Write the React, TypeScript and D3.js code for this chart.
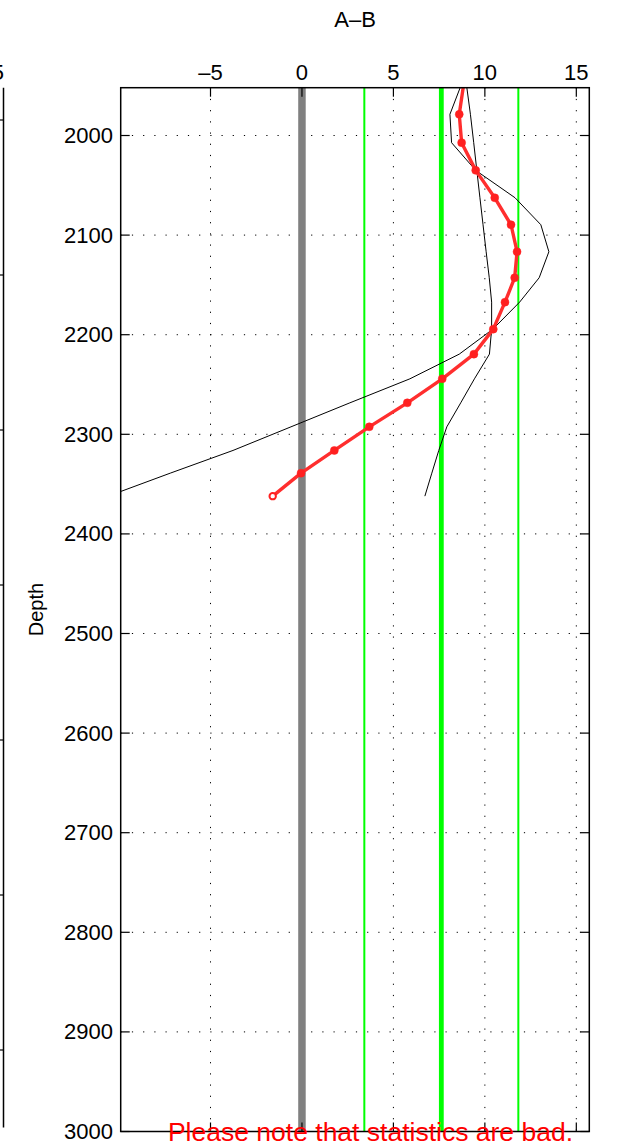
import React from "react";
import * as d3 from "d3";

// ---- data ----
const depths = [1950, 1978.7, 2007.2, 2035, 2062.5, 2089.6, 2116.7, 2142.8, 2167.3, 2194.4, 2219.5, 2244.3, 2268.4, 2292.5, 2316.2, 2339, 2362.1];
const redValues = [8.83, 8.6, 8.73, 9.5, 10.54, 11.43, 11.76, 11.63, 11.1, 10.46, 9.4, 7.67, 5.76, 3.68, 1.77, -0.05, -1.6];
const blackA = [8.69, 8.09, 8.18, 9.5, 11.65, 13.06, 13.5, 12.97, 11.9, 10.44, 8.6, 5.9, 2.62, -0.6, -3.77, -7.2, -10.6];
const blackB = [9.0, 9.21, 9.39, 9.56, 9.73, 9.9, 10.07, 10.24, 10.37, 10.37, 10.25, 9.43, 8.68, 7.92, 7.48, 7.1, 6.72];
const zeroLine = 0;
const greenMean = 7.62;
const greenLow = 3.41;
const greenHigh = 11.83;
const xTicks = [-5, 0, 5, 10, 15];
const yTicks = [2000, 2100, 2200, 2300, 2400, 2500, 2600, 2700, 2800, 2900, 3000];
const xDomain = [-9.91, 15.71];
const yDomain = [1952, 3000];
const leftPanelTicks = [120, 275, 430, 585, 740, 895, 1050];

const W = 624, H = 1147;
const L = 120.7, R = 589.3, T = 87.7, B = 1131.5;
const FONT = "'Liberation Sans', Arial, Helvetica, sans-serif";

export default function App() {
  const x = d3.scaleLinear().domain(xDomain).range([L, R]);
  const y = d3.scaleLinear().domain(yDomain).range([T, B]);
  const line = d3.line<number>().x((v) => x(v)).y((_, i) => y(depths[i]));
  const tick = 9;
  const fmt = (v: number) => (v < 0 ? "\u2013" + Math.abs(v) : String(v));

  return (
    <svg width={W} height={H} style={{ position: "absolute", left: 0, top: 0, background: "#fff" }} fontFamily={FONT}>
      <defs>
        <clipPath id="plot">
          <rect x={L} y={T} width={R - L} height={B - T} />
        </clipPath>
      </defs>
      {/* left partial panel */}
      <line x1={3.5} x2={3.5} y1={T} y2={B - 4} stroke="#000" strokeWidth={1.5} />
      {leftPanelTicks.map((t) => (
        <line key={t} x1={0} x2={3.5} y1={t} y2={t} stroke="#000" strokeWidth={1.2} />
      ))}
      <text x={4} y={80} fontSize={22} textAnchor="end">15</text>

      {/* grid */}
      <g stroke="#000" strokeWidth={1} strokeDasharray="1.2 10">
        {xTicks.map((t) => (
          <line key={"gx" + t} x1={x(t)} x2={x(t)} y1={T} y2={B} />
        ))}
        {yTicks.map((t) => (
          <line key={"gy" + t} x1={L} x2={R} y1={y(t)} y2={y(t)} />
        ))}
      </g>

      <g clipPath="url(#plot)">
        <line x1={x(zeroLine)} x2={x(zeroLine)} y1={T} y2={B} stroke="#808080" strokeWidth={7.5} />
        <line x1={x(greenLow)} x2={x(greenLow)} y1={T} y2={B} stroke="#00ff00" strokeWidth={2} />
        <line x1={x(greenMean)} x2={x(greenMean)} y1={T} y2={B} stroke="#00ff00" strokeWidth={4.8} />
        <line x1={x(greenHigh)} x2={x(greenHigh)} y1={T} y2={B} stroke="#00ff00" strokeWidth={2} />
        <path d={line(blackA) || ""} fill="none" stroke="#000" strokeWidth={1} />
        <path d={line(blackB) || ""} fill="none" stroke="#000" strokeWidth={1} />
        <path d={line(redValues) || ""} fill="none" stroke="#ff2e2e" strokeWidth={3.4} strokeLinejoin="round" />
        {redValues.map((v, i) => {
          if (depths[i] < yDomain[0]) return null;
          const last = i === redValues.length - 1;
          return (
            <circle
              key={i}
              cx={x(v)}
              cy={y(depths[i])}
              r={last ? 3.2 : 4}
              fill={last ? "#fff" : "#ff2020"}
              stroke="#ff2020"
              strokeWidth={last ? 2 : 0.5}
            />
          );
        })}
      </g>

      {/* box */}
      <rect x={L} y={T} width={R - L} height={B - T} fill="none" stroke="#000" strokeWidth={1.5} />
      {/* ticks */}
      <g stroke="#000" strokeWidth={1.2}>
        {xTicks.map((t) => (
          <g key={"tx" + t}>
            <line x1={x(t)} x2={x(t)} y1={T} y2={T + tick} />
            <line x1={x(t)} x2={x(t)} y1={B} y2={B - tick} />
          </g>
        ))}
        {yTicks.map((t) => (
          <g key={"ty" + t}>
            <line x1={L} x2={L + tick} y1={y(t)} y2={y(t)} />
            <line x1={R} x2={R - tick} y1={y(t)} y2={y(t)} />
          </g>
        ))}
      </g>
      {xTicks.map((t) => (
        <text key={"lx" + t} x={x(t)} y={80} fontSize={22} textAnchor="middle">{fmt(t)}</text>
      ))}
      {yTicks.map((t) => (
        <text key={"ly" + t} x={113} y={y(t)} fontSize={22} textAnchor="end" dominantBaseline="central">{t}</text>
      ))}
      <text x={(L + R) / 2} y={27} fontSize={22} textAnchor="middle">A{"\u2013"}B</text>
      <text transform={`translate(36,${(T + B) / 2}) rotate(-90)`} fontSize={20} textAnchor="middle" dominantBaseline="central">Depth</text>
      <text x={370.5} y={1141} fontSize={26.5} textAnchor="middle" fill="#ff0000">Please note that statistics are bad.</text>
    </svg>
  );
}
